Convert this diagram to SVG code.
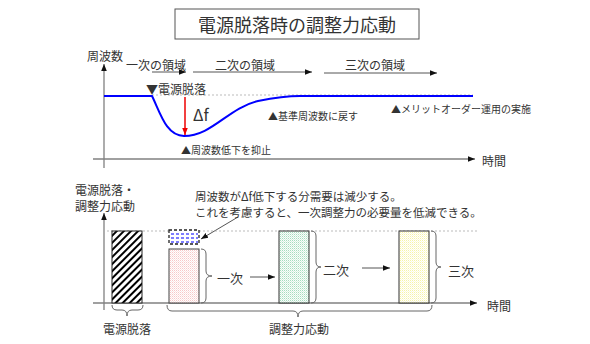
<svg xmlns="http://www.w3.org/2000/svg" width="590" height="344" viewBox="0 0 590 344">
<style>
text{font-family:"Noto Sans CJK JP","Liberation Sans",sans-serif;fill:#333;dominant-baseline:central}
.ax{stroke:#808080;stroke-width:1.3;fill:none}
.ar{stroke:#555;stroke-width:1;fill:none}
.br{stroke:#666;stroke-width:1;fill:none}
.dot{stroke:#aaa;stroke-width:0.8;stroke-dasharray:2 2;fill:none}
.bd{stroke:#00f;stroke-width:1.2;stroke-dasharray:3 2}
</style>
<defs>
<marker id="ah" viewBox="0 0 10 10" refX="10" refY="5" markerWidth="7" markerHeight="7" orient="auto" markerUnits="userSpaceOnUse"><path d="M0,1 L10,5 L0,9 Z" fill="#111"/></marker>
<marker id="ahr" viewBox="0 0 10 10" refX="10" refY="5" markerWidth="7" markerHeight="7" orient="auto" markerUnits="userSpaceOnUse"><path d="M0,1 L10,5 L0,9 Z" fill="#e00"/></marker>
<pattern id="hatch" width="5" height="5" patternUnits="userSpaceOnUse" patternTransform="rotate(45)"><rect width="5" height="5" fill="#fff"/><rect x="0" y="0" width="2" height="5" fill="#000"/></pattern>
<pattern id="pink" width="2" height="2" patternUnits="userSpaceOnUse"><rect width="2" height="2" fill="#fff"/><rect width="1" height="1" fill="#f7c8c8"/><rect x="1" y="1" width="1" height="1" fill="#fbe4e4"/></pattern>
<pattern id="green" width="2" height="2" patternUnits="userSpaceOnUse"><rect width="2" height="2" fill="#fafdfb"/><rect width="1" height="1" fill="#a6dcbf"/><rect x="1" y="1" width="1" height="1" fill="#d6efe1"/></pattern>
<pattern id="yellow" width="2" height="2" patternUnits="userSpaceOnUse"><rect width="2" height="2" fill="#fff"/><rect width="1" height="1" fill="#f7f4a8"/><rect x="1" y="1" width="1" height="1" fill="#fcfbdc"/></pattern>
</defs>

<g id="title">
<rect x="175" y="9" width="244" height="30" fill="#fff" stroke="#555" stroke-width="1"/>
<text x="297" y="24" font-size="18" text-anchor="middle">電源脱落時の調整力応動</text>
</g>

<g id="top-chart">
<line class="ax" x1="104" y1="168" x2="104" y2="64" marker-end="url(#ah)"/>
<line class="ax" x1="93" y1="159" x2="475" y2="159" marker-end="url(#ah)"/>
<text x="87" y="55" font-size="12">周波数</text>
<text x="482" y="160" font-size="12">時間</text>
<line class="dot" x1="152" y1="95" x2="473" y2="95"/>
<path d="M104,96 L152,96 C160,112 166,136 184,136 C212,136 228,108 258,101 C278,97 290,96 300,96 L473,96" fill="none" stroke="#00f" stroke-width="2"/>
<line x1="185" y1="97" x2="185" y2="135" stroke="#e00" stroke-width="1.5" marker-end="url(#ahr)"/>
<text x="193" y="114" font-size="16">Δf</text>
<text x="146" y="88" font-size="12">▼電源脱落</text>
<text x="268" y="115" font-size="10">▲基準周波数に戻す</text>
<text x="391" y="108" font-size="10">▲メリットオーダー運用の実施</text>
<text x="181" y="149" font-size="10">▲周波数低下を抑止</text>
</g>

<g id="regions">
<text x="156" y="64" font-size="12" text-anchor="middle">一次の領域</text>
<text x="245" y="64" font-size="12" text-anchor="middle">二次の領域</text>
<text x="375" y="64" font-size="12" text-anchor="middle">三次の領域</text>
</g>

<g id="connectors">
<line class="ar" x1="152" y1="72" x2="186" y2="72" marker-end="url(#ah)"/>
<line class="ar" x1="193" y1="72" x2="312" y2="72" marker-end="url(#ah)"/>
<line class="ar" x1="324" y1="73" x2="437" y2="73" marker-end="url(#ah)"/>
<line class="ar" x1="250" y1="277" x2="275" y2="277" marker-end="url(#ah)"/>
<line class="ar" x1="362" y1="268" x2="390" y2="268" marker-end="url(#ah)"/>
<line class="ar" x1="238" y1="217" x2="201" y2="239" marker-end="url(#ah)"/>
</g>

<g id="bottom-chart">
<line class="ax" x1="104" y1="310" x2="104" y2="213" marker-end="url(#ah)"/>
<line class="ax" x1="93" y1="303" x2="477" y2="303" marker-end="url(#ah)"/>
<text x="75" y="189" font-size="12">電源脱落・</text>
<text x="75" y="205" font-size="12">調整力応動</text>
<text x="487" y="305" font-size="12">時間</text>
<line class="dot" x1="107" y1="231" x2="478" y2="231"/>
</g>

<g id="loss-bar">
<rect x="112" y="231" width="30" height="72" fill="url(#hatch)" stroke="#222" stroke-width="1"/>
<path class="br" d="M112,305 Q112,310 117,310 L122,310 Q127,310 127,316 Q127,310 132,310 L138,310 Q143,310 143,305"/>
<text x="127" y="328" font-size="12" text-anchor="middle">電源脱落</text>
</g>

<g id="reduced-box">
<rect x="169" y="230" width="30" height="14" fill="#fff" stroke="#222" stroke-width="1.3" stroke-dasharray="3 2"/>
<line class="bd" x1="171" y1="234" x2="198" y2="234"/>
<line class="bd" x1="171" y1="238" x2="198" y2="238"/>
<line class="bd" x1="171" y1="242" x2="198" y2="242"/>
</g>

<g id="note">
<text x="195" y="196" font-size="11.5">周波数がΔf低下する分需要は減少する。</text>
<text x="195" y="212" font-size="11.5">これを考慮すると、一次調整力の必要量を低減できる。</text>
</g>

<g id="primary-bar">
<rect x="169" y="249" width="30" height="54" fill="url(#pink)" stroke="#444" stroke-width="1"/>
<path class="br" d="M201,249 Q206,249 206,254 L206,271 Q206,276 212,276 Q206,276 206,281 L206,298 Q206,303 201,303"/>
<text x="217" y="277" font-size="13">一次</text>
</g>

<g id="secondary-bar">
<rect x="279" y="231" width="30" height="72" fill="url(#green)" stroke="#333" stroke-width="1"/>
<path class="br" d="M311,231 Q316,231 316,236 L316,262 Q316,267 321,267 Q316,267 316,272 L316,298 Q316,303 311,303"/>
<text x="323" y="269" font-size="13">二次</text>
</g>

<g id="tertiary-bar">
<rect x="399" y="231" width="30" height="72" fill="url(#yellow)" stroke="#333" stroke-width="1"/>
<path class="br" d="M431,231 Q436,231 436,236 L436,262 Q436,267 441,267 Q436,267 436,272 L436,298 Q436,303 431,303"/>
<text x="448" y="270" font-size="13">三次</text>
</g>

<g id="response-brace">
<path class="br" d="M167,305 Q167,311 172,311 L293,311 Q298,311 298,317 Q298,311 303,311 L427,311 Q432,311 432,305"/>
<text x="299" y="328" font-size="12" text-anchor="middle">調整力応動</text>
</g>
</svg>
